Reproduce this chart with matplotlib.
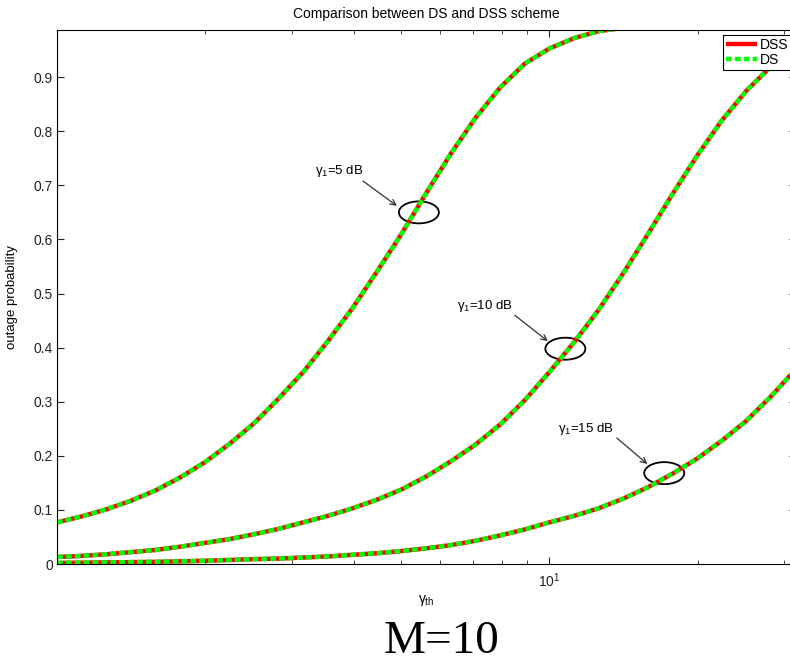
import matplotlib.pyplot as plt
from matplotlib.patches import Ellipse
from matplotlib.transforms import ScaledTranslation
from matplotlib.ticker import NullFormatter

plt.rcParams['font.family'] = ['Liberation Sans', 'DejaVu Sans']
plt.rcParams['mathtext.fontset'] = 'custom'
plt.rcParams['mathtext.rm'] = 'Liberation Sans'
plt.rcParams['mathtext.it'] = 'Liberation Sans'

# gamma_th (linear): 0..15 dB in 0.5 dB steps
gamma_th = [1.0, 1.122, 1.259, 1.413, 1.585, 1.778, 1.995, 2.239, 2.512, 2.818,
            3.162, 3.548, 3.981, 4.467, 5.012, 5.623, 6.310, 7.079, 7.943, 8.913,
            10.0, 11.22, 12.59, 14.13, 15.85, 17.78, 19.95, 22.39, 25.12, 28.18,
            31.62]

# outage probability (DSS and DS lie on top of each other in the picture)
p_5db = [0.077, 0.088, 0.101, 0.117, 0.136, 0.160, 0.188, 0.222, 0.260, 0.306,
         0.355, 0.412, 0.473, 0.541, 0.611, 0.686, 0.759, 0.825, 0.881, 0.925,
         0.953, 0.972, 0.985, 0.991, 0.996, 0.998, 0.999, 1.0, 1.0, 1.0,
         1.0]
p_10db = [0.013, 0.015, 0.018, 0.022, 0.026, 0.032, 0.039, 0.046, 0.055, 0.065,
          0.077, 0.089, 0.103, 0.119, 0.138, 0.162, 0.190, 0.221, 0.258, 0.303,
          0.355, 0.410, 0.470, 0.538, 0.610, 0.684, 0.755, 0.820, 0.875, 0.920,
          0.950]
p_15db = [0.002, 0.0025, 0.003, 0.0035, 0.004, 0.005, 0.006, 0.0075, 0.009, 0.010,
          0.012, 0.014, 0.017, 0.020, 0.024, 0.029, 0.035, 0.043, 0.053, 0.064,
          0.077, 0.089, 0.103, 0.121, 0.142, 0.167, 0.195, 0.228, 0.265, 0.310,
          0.360]

curve_names = ['5', '10', '15']
yticks = [0, 0.1, 0.2, 0.3, 0.4, 0.5, 0.6, 0.7, 0.8, 0.9]
ytick_labels = ['0', '0.1', '0.2', '0.3', '0.4', '0.5', '0.6', '0.7', '0.8', '0.9']

fig = plt.figure(figsize=(7.9, 6.62), dpi=100)
ax = fig.add_axes([0.0722, 0.148, 0.935, 0.8066])

green = (0, 1, 0)
for i, p in enumerate([p_5db, p_10db, p_15db]):
    ax.plot(gamma_th, p, color='red', lw=3.2, solid_capstyle='butt',
            label='DSS' if i == 0 else None)
    ax.plot(gamma_th, p, color=green, lw=3.2, dashes=(1.3, 0.7),
            dash_capstyle='butt', label='DS' if i == 0 else None)

ax.set_xscale('log')
ax.set_xlim(1, 31.62)
ax.set_ylim(0, 0.987)
ax.set_xticks([10])
ax.set_xticks([2, 3, 4, 5, 6, 7, 8, 9, 20, 30], minor=True)
ax.xaxis.set_minor_formatter(NullFormatter())
ax.set_yticks(yticks)
ax.set_yticklabels(ytick_labels)
ax.tick_params(which='both', direction='in', top=True, right=True,
               labelsize=10, colors='#222222')
ax.tick_params(which='major', length=5)
ax.tick_params(which='minor', length=3)
ax.tick_params(axis='x', pad=5)
ax.tick_params(axis='y', pad=3)

ax.set_title('Comparison between DS and DSS scheme', fontsize=10, pad=9)
ax.set_ylabel('outage probability', fontsize=9.5)
ax.yaxis.set_label_coords(-0.053, 0.5)
ax.set_xlabel(r'$\gamma_{th}$', fontsize=10)
ax.xaxis.set_label_coords(0.5, -0.054)

# ellipses + arrows marking each gamma_1 curve
marks = [((5.43, 0.650), (3.34, 0.721), (4.18, 0.708), (4.90, 0.662)),
         ((10.77, 0.398), (6.48, 0.471), (8.50, 0.460), (9.92, 0.412)),
         ((17.1, 0.168), (10.4, 0.244), (13.7, 0.233), (15.8, 0.185))]
for name, (centre, txt, tail, tip) in zip(curve_names, marks):
    trans = fig.dpi_scale_trans + ScaledTranslation(centre[0], centre[1], ax.transData)
    ax.add_patch(Ellipse((0, 0), 0.40, 0.22, transform=trans, fill=False,
                         edgecolor='black', lw=1.3))
    ax.text(txt[0], txt[1], r'$\gamma_1$=' + name + ' dB', fontsize=9.5,
            va='baseline', ha='left')
    ax.annotate('', xy=tip, xytext=tail,
                arrowprops=dict(arrowstyle='->', color='#333333', lw=0.9,
                                shrinkA=0, shrinkB=0))

leg = ax.legend(loc='upper right', fontsize=10, fancybox=False,
                edgecolor='black', framealpha=1, borderpad=0.2,
                labelspacing=0.1, handletextpad=0.2, handlelength=2.2,
                borderaxespad=0.35)
leg.get_frame().set_linewidth(0.8)

fig.text(0.559, 0.013, 'M=10', fontsize=34, family='Liberation Serif',
         ha='center', va='baseline')

fig.savefig('out.png', dpi=100)
